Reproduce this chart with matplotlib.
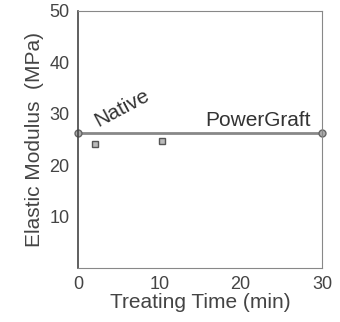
import matplotlib.pyplot as plt

plt.rcParams['font.family'] = ['Liberation Sans', 'DejaVu Sans']

# PowerGraft line (endpoints) and Native points
graft_time = [0, 30]
graft_modulus = [26.2, 26.2]
native_time = [2.1, 10.3]
native_modulus = [24.2, 24.6]

fig = plt.figure(figsize=(3.4, 3.22), dpi=100)
ax = fig.add_axes([0.229, 0.168, 0.718, 0.798])

ax.plot(graft_time, graft_modulus, color="#888888", lw=2, marker="o", ms=5,
        mfc="#aaaaaa", mec="#666666", clip_on=False)
ax.plot(native_time, native_modulus, ls="none", marker="s", ms=4,
        mfc="#bbbbbb", mec="#555555")

ax.text(1.6, 27.6, "Native", rotation=28, fontsize=15, color="#333333")
ax.text(28.6, 27.6, "PowerGraft", ha="right", fontsize=15, color="#333333")

ax.set_xlim(0, 30)
ax.set_ylim(0, 50)
ax.set_xticks([0, 10, 20, 30])
ax.set_yticks([10, 20, 30, 40, 50])
ax.tick_params(length=0, labelsize=13, colors="#444444", pad=6)
ax.set_xlabel("Treating Time (min)", fontsize=15, color="#444444", labelpad=0)
ax.set_ylabel("Elastic Modulus  (MPa)", fontsize=15, color="#444444", labelpad=4)

for side in ["top", "right", "bottom"]:
    ax.spines[side].set_color("#888888")
    ax.spines[side].set_linestyle((0, (2, 1)))
    ax.spines[side].set_linewidth(0.8)
ax.spines["left"].set_color("#444444")
ax.spines["left"].set_linewidth(1.2)

fig.savefig("out.png", dpi=100)
